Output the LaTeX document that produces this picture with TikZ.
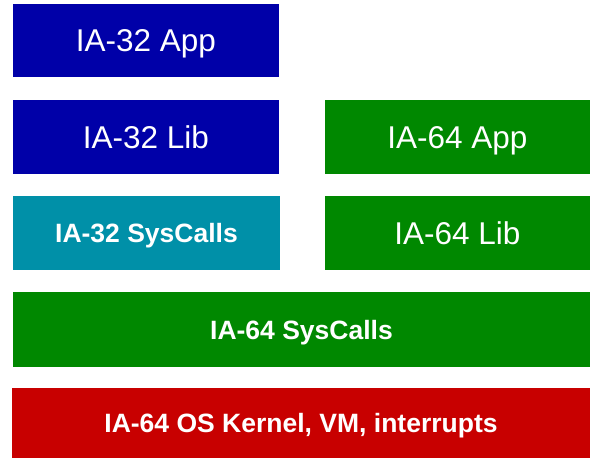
\documentclass[tikz,border=0pt]{standalone}
\usepackage{fontspec}
\setmainfont{Liberation Sans}
\definecolor{layerblue}{RGB}{0,0,168}
\definecolor{layergreen}{RGB}{0,136,0}
\definecolor{layerteal}{RGB}{0,144,168}
\definecolor{layerred}{RGB}{200,0,0}
\tikzset{
  layer/.style={rectangle, anchor=north west, inner sep=0pt, outer sep=0pt,
    text=white, draw=none, text depth=0pt},
  % caps are centred vertically in each box
  plainlabel/.style={font=\fontsize{31.5}{36}\selectfont, text height=22.5pt},
  boldlabel/.style={font=\fontsize{26.5}{30}\selectfont\bfseries, text height=19pt},
}
\begin{document}
\begin{tikzpicture}[x=1pt,y=-1pt]
  \useasboundingbox (0,0) rectangle (590,458);
  % left column
  \node[layer, plainlabel, fill=layerblue, minimum width=266pt, minimum height=73pt]
    (app32) at (13,4) {IA-32 App};
  \node[layer, plainlabel, fill=layerblue, minimum width=266pt, minimum height=74pt]
    (lib32) at (13,100) {IA-32 Lib};
  \node[layer, boldlabel, fill=layerteal, minimum width=267pt, minimum height=74pt]
    (sys32) at (13,196) {IA-32 SysCalls};
  % right column
  \node[layer, plainlabel, fill=layergreen, minimum width=265pt, minimum height=74pt]
    (app64) at (325,100) {IA-64 App};
  \node[layer, plainlabel, fill=layergreen, minimum width=265pt, minimum height=74pt]
    (lib64) at (325,196) {IA-64 Lib};
  % full-width layers
  \node[layer, boldlabel, fill=layergreen, minimum width=577pt, minimum height=75pt]
    (sys64) at (13,292) {IA-64 SysCalls};
  \node[layer, boldlabel, fill=layerred, minimum width=578pt, minimum height=70pt]
    (kernel) at (12,388) {IA-64 OS Kernel, VM, interrupts};
\end{tikzpicture}
\end{document}
